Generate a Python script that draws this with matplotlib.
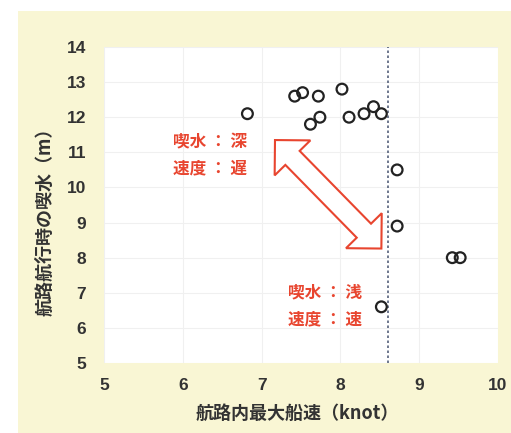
import numpy as np
import matplotlib.pyplot as plt
from matplotlib.patches import Rectangle, Polygon
from matplotlib.transforms import IdentityTransform

plt.rcParams['font.family'] = ['Noto Sans CJK JP', 'DejaVu Sans']

# data
speed = [6.82, 7.42, 7.52, 7.72, 7.62, 7.74, 8.02, 8.11, 8.30, 8.42, 8.52,
         8.72, 8.72, 9.42, 9.52, 8.52]
draft = [12.1, 12.6, 12.7, 12.6, 11.8, 12.0, 12.8, 12.0, 12.1, 12.3, 12.1,
         10.5, 8.9, 8.0, 8.0, 6.6]
speed_limit = 8.6
xticks = [5, 6, 7, 8, 9, 10]
yticks = [5, 6, 7, 8, 9, 10, 11, 12, 13, 14]
arrow_ends = [(7.17, 11.35), (8.52, 8.26)]

red = '#e8452f'
txt = '#333333'
ft = 12

fig = plt.figure(figsize=(5.11, 4.33), dpi=100, facecolor='white')
fig.patches.append(Rectangle((18 / 511, 0), 1, 1 - 11 / 433, transform=fig.transFigure,
                             facecolor='#f9f6d4', edgecolor='none', zorder=-1))
ax = fig.add_axes([104 / 511, 70 / 433, 394 / 511, 316 / 433])
ax.set_facecolor('white')

ax.scatter(speed, draft, s=60, facecolors='none', edgecolors='#222222', linewidths=1.6, zorder=3)
ax.axvline(speed_limit, color='#55607a', lw=1.2, linestyle=(0, (1.5, 1.5)), zorder=2)

ax.set_xlim(5, 10)
ax.set_ylim(5, 14)
ax.set_xticks(xticks)
ax.set_yticks(yticks)
ax.tick_params(length=0, labelsize=12.5, colors=txt)
ax.tick_params(axis='y', pad=13)
ax.tick_params(axis='x', pad=11)
for lab in ax.get_xticklabels() + ax.get_yticklabels():
    lab.set_fontweight('bold')
    lab.set_family(['Liberation Sans', 'DejaVu Sans'])
for s in ax.spines.values():
    s.set_visible(False)
ax.grid(True, color='#f0f0f0', lw=0.8)
ax.set_axisbelow(True)

ax.set_xlabel('航路内最大船速（knot）', fontsize=13, fontweight='bold', color=txt)
ax.set_ylabel('航路航行時の喫水（m）', fontsize=13, fontweight='bold', color=txt)
ax.xaxis.set_label_coords(0.49, -0.158)
ax.xaxis.label.set_va('center')
ax.yaxis.set_label_coords(-0.15, 0.462)
ax.yaxis.label.set_va('center')

ax.text(5.88, 11.27, '喫水 ： 深', color=red, fontsize=ft, fontweight='bold', va='center')
ax.text(5.88, 10.55, '速度 ： 遅', color=red, fontsize=ft, fontweight='bold', va='center')
ax.text(7.33, 7.0, '喫水 ： 浅', color=red, fontsize=ft, fontweight='bold', va='center')
ax.text(7.33, 6.25, '速度 ： 速', color=red, fontsize=ft, fontweight='bold', va='center')


def double_arrow(ax, p1, p2, head_w=50, head_l=25, tail_w=20):
    # hollow two-headed arrow, built in pixel space
    a = ax.transData.transform(p1)
    b = ax.transData.transform(p2)
    d = (b - a) / np.linalg.norm(b - a)
    n = np.array([-d[1], d[0]])
    h1 = a + d * head_l
    h2 = b - d * head_l
    pts = [a,
           h1 + n * head_w / 2, h1 + n * tail_w / 2,
           h2 + n * tail_w / 2, h2 + n * head_w / 2,
           b,
           h2 - n * head_w / 2, h2 - n * tail_w / 2,
           h1 - n * tail_w / 2, h1 - n * head_w / 2]
    poly = Polygon(pts, closed=True, transform=IdentityTransform(), facecolor='white',
                   edgecolor=red, lw=1.5, zorder=4)
    ax.add_artist(poly)


double_arrow(ax, arrow_ends[0], arrow_ends[1])

fig.savefig('out.png', dpi=100, facecolor=fig.get_facecolor())
